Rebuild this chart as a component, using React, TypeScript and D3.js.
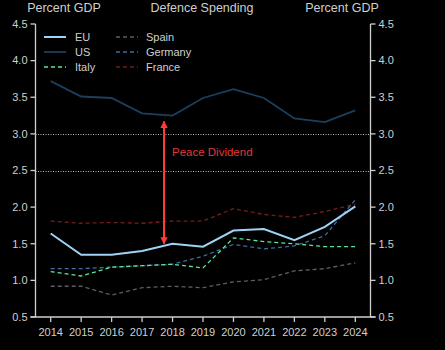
import { useEffect, useRef } from 'react';
import * as d3 from 'd3';

const years = [2014, 2015, 2016, 2017, 2018, 2019, 2020, 2021, 2022, 2023, 2024];
const yTicks = [0.5, 1.0, 1.5, 2.0, 2.5, 3.0, 3.5, 4.0, 4.5];
const gridValues = [2.5, 3.0];

const eu = [1.64, 1.35, 1.35, 1.40, 1.50, 1.46, 1.68, 1.70, 1.55, 1.73, 2.01];
const us = [3.72, 3.51, 3.49, 3.28, 3.25, 3.49, 3.61, 3.49, 3.21, 3.16, 3.32];
const italy = [1.12, 1.06, 1.18, 1.20, 1.22, 1.17, 1.58, 1.53, 1.50, 1.46, 1.46];
const spain = [0.92, 0.92, 0.80, 0.90, 0.92, 0.90, 0.98, 1.01, 1.13, 1.16, 1.24];
const germany = [1.16, 1.16, 1.18, 1.20, 1.22, 1.33, 1.49, 1.43, 1.47, 1.61, 2.10];
const france = [1.81, 1.78, 1.79, 1.78, 1.81, 1.81, 1.98, 1.90, 1.86, 1.94, 2.04];

const arrowYear = 2017.72;
const arrowFrom = 1.5;
const arrowTo = 3.17;

interface Series {
  name: string;
  values: number[];
  color: string;
  width: number;
  dash?: string;
}

const series: Series[] = [
  { name: 'EU', values: eu, color: '#9fd3f5', width: 2, dash: undefined },
  { name: 'US', values: us, color: '#1b3f5e', width: 1.8, dash: undefined },
  { name: 'Italy', values: italy, color: '#5be6a0', width: 1.3, dash: '4,3' },
  { name: 'Spain', values: spain, color: '#5e5e5e', width: 1.3, dash: '4,3' },
  { name: 'Germany', values: germany, color: '#3a6ea5', width: 1.3, dash: '4,3' },
  { name: 'France', values: france, color: '#7a1b1b', width: 1.3, dash: '4,3' },
];

const fontFamily = 'Liberation Sans, Arial, sans-serif';
const axisColor = '#cfcfcf';

export default function App() {
  const svgRef = useRef<SVGSVGElement>(null);
  const width = 445;
  const height = 350;

  useEffect(() => {
    if (!svgRef.current) return;
    const svg = d3.select(svgRef.current);
    svg.selectAll('*').remove();

    const left = 35.5;
    const right = 370.5;
    const top = 24;
    const bottom = 317;

    svg.append('rect').attr('width', width).attr('height', height).attr('fill', '#000');

    const x = d3.scaleLinear().domain([2014, 2024]).range([50.7, 355.3]);
    const y = d3.scaleLinear().domain([0.5, 4.5]).range([bottom, top]);

    // Grid lines
    svg.selectAll('.grid')
      .data(gridValues)
      .enter()
      .append('line')
      .attr('x1', left)
      .attr('x2', right)
      .attr('y1', d => Math.round(y(d)) + 0.5)
      .attr('y2', d => Math.round(y(d)) + 0.5)
      .attr('stroke', '#bbbbbb')
      .attr('stroke-width', 1)
      .attr('stroke-dasharray', '1,1.5');

    // Lines
    const line = d3.line<number>()
      .x((_, i) => x(years[i]))
      .y(d => y(d));

    // draw order: dashed first, then US, EU on top
    const order = ['Spain', 'France', 'Germany', 'Italy', 'US', 'EU'];
    order.forEach(name => {
      const s = series.find(d => d.name === name)!;
      svg.append('path')
        .datum(s.values)
        .attr('d', line)
        .attr('fill', 'none')
        .attr('stroke', s.color)
        .attr('stroke-width', s.width)
        .attr('stroke-dasharray', s.dash ?? null);
    });

    // Arrow
    const ax = x(arrowYear);
    const defs = svg.append('defs');
    defs.append('marker')
      .attr('id', 'arrowhead')
      .attr('viewBox', '0 0 10 10')
      .attr('refX', 9)
      .attr('refY', 5)
      .attr('markerWidth', 3.6)
      .attr('markerHeight', 3.6)
      .attr('orient', 'auto-start-reverse')
      .append('path')
      .attr('d', 'M0,0L10,5L0,10z')
      .attr('fill', '#ff3b3b');

    svg.append('line')
      .attr('x1', ax)
      .attr('x2', ax)
      .attr('y1', y(arrowFrom))
      .attr('y2', y(arrowTo))
      .attr('stroke', '#ff3b3b')
      .attr('stroke-width', 2)
      .attr('marker-start', 'url(#arrowhead)')
      .attr('marker-end', 'url(#arrowhead)');

    svg.append('text')
      .attr('x', ax + 8)
      .attr('y', 156)
      .style('font-family', fontFamily)
      .style('font-size', '11.5px')
      .style('fill', '#e0393b')
      .text('Peace Dividend');

    // Axes
    const axisG = svg.append('g');
    axisG.append('line')
      .attr('x1', left).attr('x2', left).attr('y1', top).attr('y2', bottom)
      .attr('stroke', axisColor).attr('stroke-width', 1.3);
    axisG.append('line')
      .attr('x1', right).attr('x2', right).attr('y1', top).attr('y2', bottom)
      .attr('stroke', axisColor).attr('stroke-width', 1.3);
    axisG.append('line')
      .attr('x1', left - 5).attr('x2', right + 5).attr('y1', bottom).attr('y2', bottom)
      .attr('stroke', axisColor).attr('stroke-width', 1.3);

    yTicks.forEach(t => {
      const yy = y(t);
      axisG.append('line').attr('x1', left - 5).attr('x2', left).attr('y1', yy).attr('y2', yy)
        .attr('stroke', axisColor).attr('stroke-width', 1.3);
      axisG.append('line').attr('x1', right).attr('x2', right + 5).attr('y1', yy).attr('y2', yy)
        .attr('stroke', axisColor).attr('stroke-width', 1.3);
      axisG.append('text')
        .attr('x', left - 8).attr('y', yy).attr('dy', '0.35em')
        .attr('text-anchor', 'end')
        .style('font-family', fontFamily).style('font-size', '11px').style('fill', axisColor)
        .text(t.toFixed(1));
      axisG.append('text')
        .attr('x', right + 8).attr('y', yy).attr('dy', '0.35em')
        .attr('text-anchor', 'start')
        .style('font-family', fontFamily).style('font-size', '11px').style('fill', axisColor)
        .text(t.toFixed(1));
    });

    years.forEach(yr => {
      const xx = x(yr);
      axisG.append('line').attr('x1', xx).attr('x2', xx).attr('y1', bottom).attr('y2', bottom + 5)
        .attr('stroke', axisColor).attr('stroke-width', 1.3);
      axisG.append('text')
        .attr('x', xx).attr('y', bottom + 15).attr('dy', '0.35em')
        .attr('text-anchor', 'middle')
        .style('font-family', fontFamily).style('font-size', '11px').style('fill', axisColor)
        .text(String(yr));
    });

    // Titles
    const titles: [string, number][] = [['Percent GDP', 64], ['Defence Spending', 202], ['Percent GDP', 342]];
    titles.forEach(([t, tx]) => {
      svg.append('text')
        .attr('x', tx).attr('y', 8).attr('dy', '0.35em')
        .attr('text-anchor', 'middle')
        .style('font-family', fontFamily).style('font-size', '12.5px').style('fill', axisColor)
        .text(t);
    });

    // Legend
    const legendCols = [
      { lx: 44, tx: 75, items: ['EU', 'US', 'Italy'] },
      { lx: 116, tx: 146, items: ['Spain', 'Germany', 'France'] },
    ];
    legendCols.forEach(col => {
      col.items.forEach((name, i) => {
        const s = series.find(d => d.name === name)!;
        const ly = 37 + i * 15;
        svg.append('line')
          .attr('x1', col.lx).attr('x2', col.lx + 22).attr('y1', ly).attr('y2', ly)
          .attr('stroke', s.color).attr('stroke-width', s.width)
          .attr('stroke-dasharray', s.dash ?? null);
        svg.append('text')
          .attr('x', col.tx).attr('y', ly).attr('dy', '0.35em')
          .style('font-family', fontFamily).style('font-size', '11px').style('fill', axisColor)
          .text(name);
      });
    });
  }, []);

  return (
    <div style={{ position: 'fixed', left: 0, top: 0, width, height, background: '#000' }}>
      <svg ref={svgRef} width={width} height={height} style={{ display: 'block' }} />
    </div>
  );
}
